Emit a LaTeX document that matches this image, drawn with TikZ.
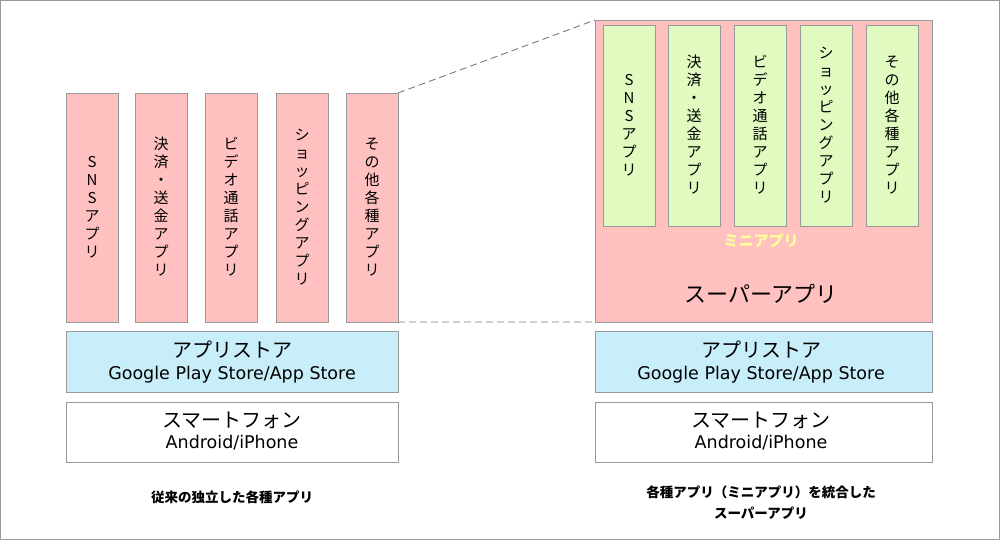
\documentclass[tikz,border=0pt]{standalone}
\usepackage{fontspec}
\setmainfont{Noto Sans CJK JP}
\newfontfamily\latinf{DejaVu Sans}
\definecolor{pinkf}{HTML}{FFC0C0}
\definecolor{greenf}{HTML}{E0FAC0}
\definecolor{bluef}{HTML}{C8EEFA}
\definecolor{edge}{HTML}{999999}
\definecolor{mini}{HTML}{FFFF99}
\begin{document}
\begin{tikzpicture}[x=1pt,y=-1pt,
  box/.style={draw=edge,line width=0.8pt},
  vt/.style={align=center,font=\fontsize{15}{18}\selectfont,inner sep=0pt},
  big/.style={font=\fontsize{20}{22}\selectfont,inner sep=0pt},
  small/.style={font=\latinf\fontsize{17.5}{19}\selectfont,inner sep=0pt},
  captxt/.style={font=\bfseries\fontsize{13.5}{21}\selectfont,align=center,inner sep=0pt}]
\useasboundingbox (0,0) rectangle (1000,540);
\draw[edge,line width=0.8pt] (0.5,0.5) rectangle (999.5,539.5);
% left apps
\foreach \x/\t [count=\i] in {66/{S\\N\\S\\ア\\プ\\リ},135/{決\\済\\・\\送\\金\\ア\\プ\\リ},205/{ビ\\デ\\オ\\通\\話\\ア\\プ\\リ},276/{シ\\ョ\\ッ\\ピ\\ン\\グ\\ア\\プ\\リ},346/{そ\\の\\他\\各\\種\\ア\\プ\\リ}}{
  \draw[box,fill=pinkf] (\x,93) rectangle ++(52,229);
  \node[vt] (l\i) at (\x+26,207) {\t};
}
\draw[box,fill=bluef] (66,331) rectangle (398,392);
\node[big] (ls1) at (232,350) {アプリストア};
\node[small] (ls2) at (232,375) {Google Play Store/App Store};
\draw[box,fill=white] (66,402) rectangle (398,462);
\node[big] (lp1) at (232,420) {スマートフォン};
\node[small] (lp2) at (232,443) {Android/iPhone};
\node[captxt] (lc) at (232,497) {従来の独立した各種アプリ};
% right
\draw[box,fill=pinkf] (595,20) rectangle (932,322);
\foreach \x/\t [count=\i] in {603/{S\\N\\S\\ア\\プ\\リ},668/{決\\済\\・\\送\\金\\ア\\プ\\リ},734/{ビ\\デ\\オ\\通\\話\\ア\\プ\\リ},800/{シ\\ョ\\ッ\\ピ\\ン\\グ\\ア\\プ\\リ},866/{そ\\の\\他\\各\\種\\ア\\プ\\リ}}{
  \draw[box,fill=greenf] (\x,25) rectangle ++(52,201);
  \node[vt] (r\i) at (\x+26,125) {\t};
}
\node[font=\bfseries\fontsize{15}{17}\selectfont,text=mini,inner sep=0pt] (ma) at (761,241) {ミニアプリ};
\node[font=\fontsize{22}{24}\selectfont,inner sep=0pt] (sa) at (761,294) {スーパーアプリ};
\draw[box,fill=bluef] (595,331) rectangle (932,392);
\node[big] (rs1) at (761,350) {アプリストア};
\node[small] (rs2) at (761,375) {Google Play Store/App Store};
\draw[box,fill=white] (595,402) rectangle (932,462);
\node[big] (rp1) at (761,420) {スマートフォン};
\node[small] (rp2) at (761,443) {Android/iPhone};
\node[captxt] (rc) at (761,503) {各種アプリ（ミニアプリ）を統合した\\スーパーアプリ};
% dashed
\coordinate (a1) at (398,93); \coordinate (a2) at (595,20);
\coordinate (b1) at (398,322); \coordinate (b2) at (595,322);
\draw[edge!80!black,line width=0.9pt,dash pattern=on 7pt off 4pt] (a1)--(a2) (b1)--(b2);
\end{tikzpicture}
\end{document}
